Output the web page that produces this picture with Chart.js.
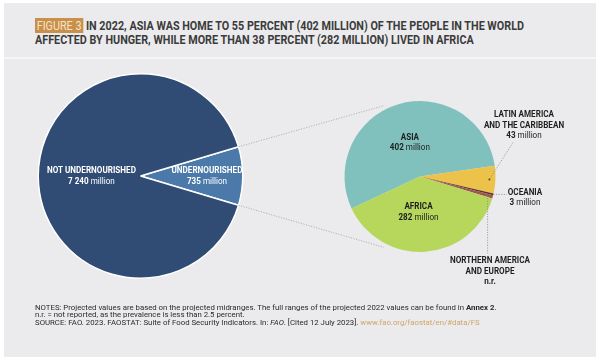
<!DOCTYPE html>
<html lang="en">
<head>
  <meta charset="UTF-8">
  <title>Figure 3 - Undernourishment by region, 2022</title>
  <script src="https://cdn.jsdelivr.net/npm/chart.js"></script>
  <style>
    html, body { margin: 0; padding: 0; background: #fff; }
    #page { position: relative; width: 602px; height: 363px; overflow: hidden; }
    #panel { position: absolute; left: 4px; top: 3px; width: 592px; height: 354px; background: #ebebed; }
    #rule { position: absolute; left: 4px; top: 57px; width: 592px; height: 2px; background: #f6f6f7; }
    #title {
      position: absolute; left: 35px; top: 19px;
      font: bold 12.5px/14px Roboto, sans-serif;
      color: #3b3b3b;
    }
    #title .ln { width: max-content; white-space: nowrap; transform-origin: 0 0; }
    #title .fig { background: #c8904a; color: #f7e4c6; font-weight: normal; padding: 0 2px; }
    #notes {
      position: absolute; left: 35px; top: 304px; white-space: nowrap;
      font: 7.8px/7.4px Roboto, sans-serif; color: #2a2a2a;
    }
    #notes a { color: #cfa66a; text-decoration: none; }
    canvas { position: absolute; left: 0; top: 0; }
  </style>
</head>
<body>
<div id="page">
  <div id="panel"></div>
  <div id="rule"></div>
  <div id="title">
    <div class="ln" id="t1"><span class="fig">FIGURE 3</span> IN 2022, ASIA WAS HOME TO 55 PERCENT (402 MILLION) OF THE PEOPLE IN THE WORLD</div>
    <div class="ln" id="t2">AFFECTED BY HUNGER, WHILE MORE THAN 38 PERCENT (282 MILLION) LIVED IN AFRICA</div>
  </div>
  <canvas id="world" width="602" height="363"></canvas>
  <canvas id="regions" width="602" height="363"></canvas>
  <div id="notes">
    <div>NOTES: Projected values are based on the projected midranges. The full ranges of the projected 2022 values can be found in <b>Annex 2</b>.</div>
    <div>n.r. = not reported, as the prevalence is less than 2.5 percent.</div>
    <div>SOURCE: FAO. 2023. FAOSTAT: Suite of Food Security Indicators. In: <i>FAO</i>. [Cited 12 July 2023]. <a>www.fao.org/faostat/en/#data/FS</a></div>
  </div>
</div>

<script>
  // world population split (million people)
  const worldLabels = ['UNDERNOURISHED', 'NOT UNDERNOURISHED'];
  const worldValues = [735, 7240];
  const worldColors = ['#4a79aa', '#304c75'];

  // undernourished people by region (million people)
  const regionLabels = ['ASIA', 'LATIN AMERICA AND THE CARIBBEAN', 'OCEANIA', 'NORTHERN AMERICA AND EUROPE', 'AFRICA'];
  const regionValues = [402, 43, 3, 5, 282];
  const regionText = ['402', '43', '3', 'n.r.', '282'];
  const regionColors = ['#80c1be', '#ecc24a', '#5a392c', '#a0574c', '#b6d65c'];

  // squeeze the title into a condensed look
  const t1 = document.getElementById('t1');
  const squeeze = 489 / t1.getBoundingClientRect().width;
  document.querySelectorAll('#title .ln').forEach(el => el.style.transform = 'scaleX(' + squeeze + ')');

  const labelFont = 'Roboto, sans-serif';
  let labelSx = null;

  // draw one line made of [text, bold] parts, centred on x, condensed horizontally
  function drawParts(ctx, parts, x, y, size, color) {
    if (labelSx === null) {
      ctx.font = 'bold ' + size + 'px ' + labelFont;
      labelSx = 89 / ctx.measureText('NOT UNDERNOURISHED').width;
    }
    let total = 0;
    parts.forEach(p => {
      ctx.font = (p[1] ? 'bold ' : '') + size + 'px ' + labelFont;
      total += ctx.measureText(p[0]).width;
    });
    ctx.save();
    ctx.translate(x, y);
    ctx.scale(labelSx, 1);
    let cx = -total / 2;
    ctx.fillStyle = color;
    ctx.textAlign = 'left';
    ctx.textBaseline = 'middle';
    parts.forEach(p => {
      ctx.font = (p[1] ? 'bold ' : '') + size + 'px ' + labelFont;
      ctx.fillText(p[0], cx, 0);
      cx += ctx.measureText(p[0]).width;
    });
    ctx.restore();
  }

  function drawBlock(ctx, lines, x, y, color) {
    const pitch = 10.5;
    const top = y - (lines.length - 1) * pitch / 2;
    lines.forEach((ln, i) => drawParts(ctx, ln, x, top + i * pitch, 9.5, color));
  }

  function pointAt(arc, frac) {
    const mid = (arc.startAngle + arc.endAngle) / 2;
    return { x: arc.x + Math.cos(mid) * arc.outerRadius * frac, y: arc.y + Math.sin(mid) * arc.outerRadius * frac };
  }

  function dotted(ctx, pts, color) {
    ctx.save();
    ctx.strokeStyle = color;
    ctx.lineWidth = 0.8;
    ctx.setLineDash([1.2, 1.4]);
    ctx.beginPath();
    ctx.moveTo(pts[0].x, pts[0].y);
    for (let i = 1; i < pts.length; i++) ctx.lineTo(pts[i].x, pts[i].y);
    ctx.stroke();
    ctx.restore();
  }

  const worldLabelPlugin = {
    id: 'worldLabels',
    afterDatasetsDraw(chart) {
      const ctx = chart.ctx;
      const arcs = chart.getDatasetMeta(0).data;
      const p0 = pointAt(arcs[0], 0.65);
      drawBlock(ctx, [[[worldLabels[0], true]], [[String(worldValues[0]), true], [' million', false]]], p0.x, p0.y, '#ffffff');
      const p1 = pointAt(arcs[1], 0.48);
      drawBlock(ctx, [[[worldLabels[1], true]], [['7 240', true], [' million', false]]], p1.x, p1.y, '#ffffff');
    }
  };

  const worldHalf = worldValues[0] / (worldValues[0] + worldValues[1]) * 180;

  const worldChart = new Chart(document.getElementById('world'), {
    type: 'pie',
    data: {
      labels: worldLabels,
      datasets: [{ data: worldValues, backgroundColor: worldColors, borderColor: '#ffffff', borderWidth: 1.5 }]
    },
    options: {
      responsive: false,
      animation: false,
      rotation: 90 - worldHalf,
      layout: { padding: { left: 37, right: 358, top: 73, bottom: 84 } },
      plugins: { legend: { display: false }, tooltip: { enabled: false } }
    },
    plugins: [worldLabelPlugin]
  });

  const regionLabelPlugin = {
    id: 'regionLabels',
    afterDatasetsDraw(chart) {
      const ctx = chart.ctx;
      const arcs = chart.getDatasetMeta(0).data;
      const cx = arcs[0].x, cy = arcs[0].y, r = arcs[0].outerRadius;

      // links from the undernourished wedge to the region pie
      const w = worldChart.getDatasetMeta(0).data[0];
      const a1 = { x: w.x + Math.cos(w.startAngle) * w.outerRadius, y: w.y + Math.sin(w.startAngle) * w.outerRadius };
      const a2 = { x: w.x + Math.cos(w.endAngle) * w.outerRadius, y: w.y + Math.sin(w.endAngle) * w.outerRadius };
      const t = 117 * Math.PI / 180;
      dotted(ctx, [a1, { x: cx + Math.cos(-t) * (r + 4), y: cy + Math.sin(-t) * (r + 4) }], '#a3a3a6');
      dotted(ctx, [a2, { x: cx + Math.cos(t) * (r + 4), y: cy + Math.sin(t) * (r + 4) }], '#a3a3a6');

      // inside labels
      const pa = pointAt(arcs[0], 0.47);
      drawBlock(ctx, [[[regionLabels[0], true]], [[regionText[0], true], [' million', false]]], pa.x, pa.y, '#1f1f1f');
      const pf = pointAt(arcs[4], 0.47);
      drawBlock(ctx, [[[regionLabels[4], true]], [[regionText[4], true], [' million', false]]], pf.x - 4, pf.y, '#1f1f1f');

      // Latin America
      const pl = pointAt(arcs[1], 0.92);
      dotted(ctx, [{ x: cx + 93, y: cy - 34 }, pl], '#8a8a8a');
      ctx.fillStyle = '#5a4a20';
      ctx.beginPath(); ctx.arc(pl.x, pl.y, 1, 0, Math.PI * 2); ctx.fill();
      drawBlock(ctx, [[['LATIN AMERICA', true]], [['AND THE CARIBBEAN', true]], [[regionText[1], true], [' million', false]]], cx + 104, cy - 51, '#1f1f1f');

      // Oceania
      const po = pointAt(arcs[2], 1.0);
      dotted(ctx, [po, { x: cx + 87, y: po.y }], '#8a8a8a');
      drawBlock(ctx, [[[regionLabels[2], true]], [[regionText[2], true], [' million', false]]], cx + 105, cy + 21, '#1f1f1f');

      // Northern America and Europe
      const pn = pointAt(arcs[3], 0.93);
      dotted(ctx, [pn, { x: pn.x, y: cy + 77 }], '#8a8a8a');
      drawBlock(ctx, [[['NORTHERN AMERICA', true]], [['AND EUROPE', true]], [[regionText[3], true]]], cx + 70, cy + 95, '#1f1f1f');
    }
  };

  new Chart(document.getElementById('regions'), {
    type: 'pie',
    data: {
      labels: regionLabels,
      datasets: [{ data: regionValues, backgroundColor: regionColors, borderWidth: 0 }]
    },
    options: {
      responsive: false,
      animation: false,
      rotation: 245,
      layout: { padding: { left: 344, right: 106, top: 101, bottom: 111 } },
      plugins: { legend: { display: false }, tooltip: { enabled: false } }
    },
    plugins: [regionLabelPlugin]
  });
</script>
</body>
</html>
